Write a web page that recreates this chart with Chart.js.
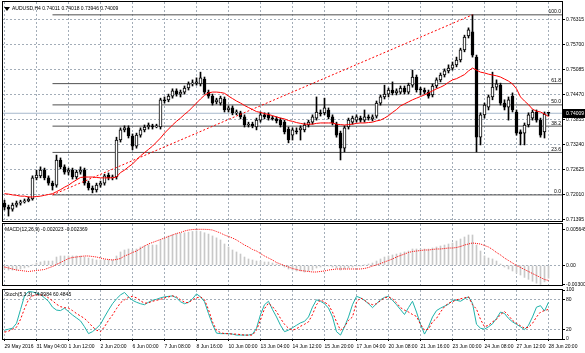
<!DOCTYPE html>
<html>
<head>
<meta charset="utf-8">
<script src="https://cdn.jsdelivr.net/npm/chart.js"></script>
<style>
  html, body { margin: 0; padding: 0; background: #fff; }
  #wrap { position: relative; width: 585px; height: 353px; overflow: hidden; }
  canvas { position: absolute; left: 0; }
</style>
</head>
<body>
<div id="wrap">
  <canvas id="main" width="585" height="222" style="top:0"></canvas>
  <canvas id="macd" width="585" height="65" style="top:222px"></canvas>
  <canvas id="stoch" width="585" height="66" style="top:287px"></canvas>
</div>
<script>
// time axis labels, one every 8 bars (H4)
const timeLabels = ['29 May 2016', '31 May 04:00', '1 Jun 12:00', '2 Jun 20:00', '6 Jun 00:00', '7 Jun 08:00',
  '8 Jun 16:00', '10 Jun 00:00', '13 Jun 04:00', '14 Jun 12:00', '15 Jun 20:00', '17 Jun 04:00',
  '20 Jun 08:00', '21 Jun 16:00', '23 Jun 00:00', '24 Jun 08:00', '27 Jun 12:00', '28 Jun 20:00'];

// AUDUSD H4 candles
const openP = [0.7180,0.7170,0.7165,0.7175,0.7180,0.7183,0.7185,0.7190,0.7242,0.7247,
  0.7261,0.7242,0.7229,0.7224,0.7286,0.7269,0.7256,0.7261,0.7244,0.7256,
  0.7261,0.7229,0.7217,0.7212,0.7224,0.7229,0.7249,0.7242,0.7244,0.7335,
  0.7360,0.7365,0.7345,0.7320,0.7347,0.7360,0.7367,0.7370,0.7367,0.7367,
  0.7434,0.7434,0.7443,0.7456,0.7448,0.7453,0.7463,0.7473,0.7475,0.7473,
  0.7485,0.7453,0.7443,0.7429,0.7426,0.7436,0.7409,0.7414,0.7402,0.7402,
  0.7392,0.7372,0.7374,0.7367,0.7384,0.7397,0.7397,0.7389,0.7387,0.7384,
  0.7379,0.7362,0.7347,0.7357,0.7360,0.7360,0.7372,0.7379,0.7389,0.7402,
  0.7402,0.7409,0.7392,0.7374,0.7352,0.7315,0.7367,0.7379,0.7384,0.7389,
  0.7384,0.7392,0.7387,0.7394,0.7426,0.7441,0.7448,0.7458,0.7451,0.7453,
  0.7463,0.7453,0.7470,0.7490,0.7461,0.7458,0.7453,0.7446,0.7468,0.7483,
  0.7495,0.7505,0.7512,0.7520,0.7532,0.7557,0.7591,0.7601,0.7539,0.7342,
  0.7397,0.7416,0.7441,0.7465,0.7470,0.7426,0.7416,0.7443,0.7404,0.7355,
  0.7352,0.7372,0.7389,0.7404,0.7384,0.7355,0.74011];
const highP = [0.7187,0.7175,0.7180,0.7185,0.7187,0.7190,0.7195,0.7247,0.7261,0.7269,
  0.7266,0.7247,0.7234,0.7298,0.7291,0.7274,0.7266,0.7266,0.7261,0.7269,
  0.7266,0.7234,0.7222,0.7229,0.7234,0.7251,0.7254,0.7249,0.7342,0.7365,
  0.7370,0.7370,0.7350,0.7352,0.7365,0.7372,0.7377,0.7374,0.7374,0.7438,
  0.7441,0.7448,0.7461,0.7461,0.7458,0.7468,0.7478,0.7483,0.7488,0.7502,
  0.7490,0.7458,0.7448,0.7438,0.7443,0.7441,0.7419,0.7419,0.7409,0.7406,
  0.7397,0.7379,0.7379,0.7389,0.7404,0.7402,0.7402,0.7394,0.7392,0.7389,
  0.7384,0.7367,0.7365,0.7365,0.7370,0.7377,0.7384,0.7397,0.7441,0.7409,
  0.7438,0.7414,0.7397,0.7379,0.7357,0.7370,0.7389,0.7394,0.7397,0.7394,
  0.7409,0.7397,0.7397,0.7431,0.7446,0.7470,0.7463,0.7478,0.7461,0.7468,
  0.7468,0.7475,0.7507,0.7495,0.7465,0.7463,0.7458,0.7473,0.7488,0.7500,
  0.7510,0.7520,0.7527,0.7539,0.7561,0.7593,0.7611,0.7643,0.7544,0.7402,
  0.7426,0.7446,0.7502,0.7483,0.7475,0.7434,0.7441,0.7451,0.7409,0.7360,
  0.7377,0.7402,0.7409,0.7409,0.7389,0.7404,0.74018];
const lowP = [0.7163,0.7148,0.7160,0.7170,0.7175,0.7180,0.7183,0.7187,0.7237,0.7242,
  0.7237,0.7224,0.7212,0.7219,0.7264,0.7251,0.7249,0.7239,0.7239,0.7251,
  0.7224,0.7212,0.7205,0.7207,0.7219,0.7224,0.7237,0.7237,0.7239,0.7330,
  0.7355,0.7340,0.7311,0.7315,0.7342,0.7355,0.7362,0.7362,0.7365,0.7362,
  0.7426,0.7429,0.7438,0.7443,0.7441,0.7448,0.7458,0.7468,0.7470,0.7468,
  0.7448,0.7438,0.7421,0.7424,0.7421,0.7404,0.7404,0.7397,0.7397,0.7387,
  0.7367,0.7367,0.7365,0.7360,0.7379,0.7387,0.7384,0.7384,0.7377,0.7367,
  0.7350,0.7328,0.7335,0.7350,0.7335,0.7355,0.7367,0.7374,0.7384,0.7394,
  0.7397,0.7387,0.7372,0.7342,0.7286,0.7306,0.7362,0.7374,0.7379,0.7379,
  0.7379,0.7384,0.7382,0.7389,0.7421,0.7436,0.7441,0.7446,0.7446,0.7448,
  0.7448,0.7448,0.7465,0.7453,0.7446,0.7448,0.7438,0.7441,0.7463,0.7478,
  0.7490,0.7500,0.7507,0.7515,0.7527,0.7552,0.7586,0.7539,0.7306,0.7323,
  0.7389,0.7409,0.7434,0.7458,0.7421,0.7409,0.7384,0.7404,0.7347,0.7323,
  0.7323,0.7367,0.7384,0.7379,0.7342,0.7340,0.73946];
const closeP = [0.7170,0.7165,0.7175,0.7180,0.7183,0.7185,0.7190,0.7242,0.7249,0.7261,
  0.7242,0.7229,0.7222,0.7286,0.7269,0.7256,0.7261,0.7244,0.7256,0.7261,
  0.7229,0.7217,0.7212,0.7224,0.7229,0.7247,0.7242,0.7244,0.7335,0.7360,
  0.7365,0.7345,0.7320,0.7347,0.7360,0.7367,0.7372,0.7367,0.7370,0.7434,
  0.7431,0.7443,0.7456,0.7448,0.7453,0.7463,0.7473,0.7475,0.7478,0.7488,
  0.7453,0.7443,0.7426,0.7434,0.7438,0.7409,0.7414,0.7402,0.7404,0.7392,
  0.7372,0.7374,0.7370,0.7384,0.7397,0.7392,0.7389,0.7387,0.7382,0.7372,
  0.7355,0.7335,0.7360,0.7355,0.7365,0.7372,0.7379,0.7392,0.7404,0.7399,
  0.7414,0.7392,0.7377,0.7347,0.7315,0.7365,0.7384,0.7389,0.7392,0.7384,
  0.7392,0.7389,0.7392,0.7426,0.7441,0.7448,0.7458,0.7451,0.7456,0.7463,
  0.7453,0.7470,0.7490,0.7458,0.7458,0.7453,0.7443,0.7468,0.7483,0.7495,
  0.7505,0.7512,0.7520,0.7532,0.7557,0.7588,0.7606,0.7544,0.7342,0.7397,
  0.7421,0.7441,0.7465,0.7473,0.7426,0.7416,0.7434,0.7409,0.7352,0.7350,
  0.7372,0.7397,0.7404,0.7384,0.7347,0.7399,0.74009];

// red moving average on the price window
const maLine = [0.7203,0.7202,0.7200,0.7199,0.7197,0.7197,0.7195,0.7195,0.7196,0.7197,
  0.7199,0.7201,0.7203,0.7208,0.7213,0.7219,0.7224,0.7231,0.7237,0.7243,
  0.7244,0.7244,0.7244,0.7243,0.7242,0.7242,0.7242,0.7242,0.7244,0.7255,
  0.7261,0.7269,0.7276,0.7286,0.7296,0.7304,0.7312,0.7320,0.7330,0.7340,
  0.7352,0.7362,0.7372,0.7381,0.7389,0.7398,0.7406,0.7416,0.7426,0.7436,
  0.7445,0.7451,0.7453,0.7453,0.7452,0.7450,0.7443,0.7437,0.7431,0.7426,
  0.7420,0.7415,0.7410,0.7405,0.7403,0.7400,0.7398,0.7395,0.7392,0.7389,
  0.7387,0.7383,0.7381,0.7378,0.7376,0.7374,0.7374,0.7374,0.7376,0.7377,
  0.7377,0.7377,0.7377,0.7374,0.7373,0.7372,0.7373,0.7374,0.7376,0.7377,
  0.7377,0.7378,0.7379,0.7382,0.7384,0.7389,0.7395,0.7403,0.7410,0.7419,
  0.7424,0.7429,0.7434,0.7438,0.7442,0.7446,0.7451,0.7456,0.7461,0.7465,
  0.7470,0.7477,0.7483,0.7486,0.7491,0.7496,0.7505,0.7512,0.7507,0.7502,
  0.7500,0.7497,0.7495,0.7493,0.7490,0.7485,0.7480,0.7473,0.7461,0.7441,
  0.7431,0.7422,0.7411,0.7406,0.7404,0.7399,0.7393];

// MACD(12,26,9): histogram and signal
const macdHist = [-0.00058,-0.00074,-0.00074,-0.00074,-0.00058,-0.00042,-0.00027,0.00005,0.00036,0.00052,
  0.00067,0.00067,0.00067,0.0013,0.00146,0.00146,0.00146,0.00146,0.00146,0.00146,
  0.0013,0.00114,0.00099,0.00083,0.00083,0.00083,0.00083,0.00083,0.00146,0.00209,
  0.0024,0.00256,0.0024,0.00256,0.00287,0.00303,0.00318,0.00318,0.00318,0.00397,
  0.00428,0.00459,0.00478,0.00495,0.0050,0.0051,0.0052,0.0053,0.0054,0.0053,
  0.0051,0.0049,0.0046,0.0043,0.00397,0.00334,0.00287,0.0024,0.00209,0.00177,
  0.0013,0.00099,0.00083,0.00067,0.00067,0.00052,0.00052,0.00036,0.0002,0.00005,
  -0.00027,-0.00058,-0.00074,-0.00089,-0.00089,-0.00105,-0.00089,-0.00074,-0.00042,-0.00027,
  -0.00011,-0.00011,-0.00027,-0.00042,-0.00074,-0.00058,-0.00042,-0.00027,-0.00011,-0.00011,
  0.00005,0.0002,0.00036,0.00067,0.00099,0.0013,0.00146,0.00162,0.00177,0.00193,
  0.00209,0.00224,0.00256,0.00256,0.00256,0.00256,0.00256,0.00271,0.00287,0.00303,
  0.00318,0.00334,0.0035,0.00381,0.00412,0.00444,0.00475,0.00475,0.00318,0.00224,
  0.00146,0.00114,0.00099,0.00067,0.0002,-0.00027,-0.00058,-0.00089,-0.00121,-0.00152,
  -0.0019,-0.0022,-0.0025,-0.0028,-0.003001,-0.0026,-0.002023];
const macdSignal = [-0.00027,-0.00042,-0.00058,-0.00074,-0.00082,-0.00089,-0.00097,-0.00089,-0.00082,-0.00074,
  -0.00066,-0.00042,-0.00019,0.00013,0.00044,0.00075,0.00107,0.00122,0.0013,0.00138,
  0.00146,0.00146,0.00138,0.0013,0.00114,0.00099,0.00091,0.00083,0.00091,0.00107,
  0.00146,0.00169,0.00201,0.00224,0.00263,0.00303,0.00334,0.00358,0.00381,0.00405,
  0.00428,0.00452,0.00475,0.00499,0.00514,0.00538,0.00553,0.00561,0.005645,0.005645,
  0.00564,0.00561,0.00553,0.0053,0.00506,0.00475,0.00452,0.00428,0.00397,0.00358,
  0.00318,0.00287,0.00248,0.00224,0.00185,0.00146,0.00114,0.00083,0.00044,0.0002,
  -0.00003,-0.00027,-0.0005,-0.00066,-0.00082,-0.00089,-0.00097,-0.00105,-0.00105,-0.00097,
  -0.00089,-0.00074,-0.00066,-0.00058,-0.00058,-0.00058,-0.00058,-0.00058,-0.00058,-0.00058,
  -0.0005,-0.00034,-0.00011,0.00005,0.00028,0.00052,0.00075,0.00099,0.0013,0.00154,
  0.00177,0.00201,0.00216,0.00224,0.00232,0.0024,0.0024,0.00248,0.00256,0.00256,
  0.00263,0.00271,0.00271,0.00279,0.00295,0.00318,0.00334,0.0035,0.00342,0.00334,
  0.0031,0.00287,0.00248,0.00201,0.00162,0.00114,0.00075,0.00036,-0.00003,-0.00034,
  -0.00066,-0.00097,-0.00129,-0.0016,-0.00191,-0.00223,-0.002369];

// Stochastic(5,3,3): main and signal
const stochMain = [18,20,22,32,60,88,97,96,94,91,
  84,77,65,59,58,63,56,49,43,37,
  25,11,15,22,30,45,59,72,82,90,
  95,86,79,75,72,70,75,79,81,84,
  86,87,88,84,76,72,75,82,92,86,
  76,52,30,12,11,11,11,10,8,8,
  8,8,10,22,50,70,77,60,45,28,
  15,18,23,28,33,36,45,65,80,77,
  72,63,45,15,8,25,45,70,87,84,
  79,72,64,72,80,85,87,79,70,60,
  50,64,77,55,30,10,25,45,58,63,
  67,71,79,79,77,82,86,73,30,22,
  20,25,31,42,55,52,42,35,30,25,
  19,28,45,65,68,57,74.9984];
const stochSignal = [14,16,20,24,40,62,80,88,90,90,
  89,84,78,71,66,64,63,58,52,47,
  42,34,25,18,15,25,38,49,62,74,
  80,85,87,84,78,73,74,77,79,81,
  84,86,88,86,80,75,74,80,84,86,
  80,60,35,18,13,11,11,10,10,9,
  8,8,8,18,39,62,73,66,56,42,
  30,22,18,21,26,30,35,50,70,80,
  75,70,55,35,18,25,38,45,75,84,
  79,73,70,72,78,84,86,82,74,64,
  59,55,50,46,30,18,20,35,42,55,
  66,73,76,80,82,84,86,70,61,40,
  25,28,35,40,50,56,48,38,32,27,
  22,24,32,45,55,58,60.4845];

// axis ticks
const priceTicks = [0.76315, 0.75700, 0.75085, 0.74470, 0.73855, 0.73240, 0.72625, 0.72010, 0.71395];
const macdTicks = [0.005645, 0, -0.003001];
const macdTickLabels = ['0.005645', '0.00', '-0.003001'];
const stochTicks = [100, 80, 20, 0];

// fibonacci retracement object
const fibLevels = [0, 23.6, 38.2, 50, 61.8, 100];
const fibLow = 0.7200, fibHigh = 0.7643;
const fibFrom = 12, fibTo = 117;

const bid = 0.74009;
const titleMain = 'AUDUSD,H4 0.74011 0.74018 0.73946 0.74009';
const titleMacd = 'MACD(12,26,9) -0.002023 -0.002369';
const titleStoch = 'Stoch(5,3,3) 74.9984 60.4845';

const FAM = "'Liberation Sans', Arial, sans-serif";
const FS = 5;
const gridCol = '#a3adb8';
const xMin = -0.625, xMax = 139.625;
const labelIdx = timeLabels.map((_, k) => k * 8);
const series = arr => arr.map((v, i) => ({ x: i, y: v }));

function xAxis(withLabels) {
  return {
    type: 'linear', min: xMin, max: xMax, offset: false,
    afterBuildTicks: s => { s.ticks = labelIdx.map(v => ({ value: v })); },
    afterFit: s => { s.height = withLabels ? 14 : 0; s.paddingLeft = 0; s.paddingRight = 0; },
    grid: { color: gridCol, offset: false, drawTicks: withLabels, tickLength: 2, tickColor: '#000' },
    border: { display: false, dash: [2, 2] },
    ticks: { display: withLabels, autoSkip: false, maxRotation: 0, minRotation: 0, align: 'start', padding: 3,
      color: '#000', font: { family: FAM, size: FS }, callback: (v, i) => timeLabels[i] }
  };
}

function yAxis(min, max, ticks, labelFn, gridFn) {
  return {
    position: 'right', min: min, max: max,
    afterBuildTicks: s => { s.ticks = ticks.map(v => ({ value: v })); },
    afterFit: s => { s.width = 22; s.paddingTop = 0; s.paddingBottom = 0; },
    grid: { color: gridFn, drawTicks: true, tickLength: 2, tickColor: '#000' },
    border: { display: false, dash: [2, 2] },
    ticks: { padding: 1, color: '#000', font: { family: FAM, size: FS }, callback: labelFn }
  };
}

function decor(title, tx, ty, extra) {
  return {
    id: 'decor',
    afterDraw(chart) {
      const { ctx, chartArea: a } = chart;
      ctx.save();
      ctx.strokeStyle = '#000';
      ctx.lineWidth = 1;
      ctx.strokeRect(a.left + 0.5, a.top - 0.5, a.right - a.left - 1, a.bottom - a.top + 1);
      ctx.fillStyle = '#000';
      ctx.font = FS + 'px ' + FAM;
      ctx.textBaseline = 'middle';
      ctx.textAlign = 'left';
      ctx.fillText(title, tx, ty);
      if (extra) extra(chart, ctx, a);
      ctx.restore();
    }
  };
}

const base = {
  responsive: false, animation: false, events: [],
  plugins: { legend: { display: false }, tooltip: { enabled: false } }
};

// price window
const idx = closeP.map((_, i) => i);
const fibPrice = p => fibLow + (fibHigh - fibLow) * p / 100;

new Chart(document.getElementById('main'), {
  type: 'bar',
  data: {
    datasets: [
      { type: 'line', data: [{ x: fibFrom, y: fibLow }, { x: fibTo, y: fibHigh }], borderColor: '#ff0000',
        borderWidth: 1, borderDash: [2, 2], pointRadius: 0, order: 1 },
      { type: 'line', data: series(maLine), borderColor: '#ff0000', borderWidth: 1, pointRadius: 0, order: 1 },
      { type: 'bar', data: idx.map(i => ({ x: i, y: [openP[i], closeP[i]] })),
        backgroundColor: idx.map(i => closeP[i] >= openP[i] ? '#ffffff' : '#000000'),
        borderColor: '#000', borderWidth: 1, borderSkipped: false, barThickness: 3, minBarLength: 1,
        grouped: false, order: 2 },
      { type: 'bar', data: idx.map(i => ({ x: i, y: [lowP[i], highP[i]] })), backgroundColor: '#000',
        borderWidth: 0, barThickness: 1, grouped: false, order: 3 },
      ...fibLevels.map(p => ({ type: 'line', data: [{ x: fibFrom, y: fibPrice(p) }, { x: xMax, y: fibPrice(p) }],
        borderColor: '#505050', borderWidth: 1, pointRadius: 0, order: 5 })),
      { type: 'line', data: [{ x: xMin, y: bid }, { x: xMax, y: bid }], borderColor: '#a6b8cc',
        borderWidth: 1, pointRadius: 0, order: 4 }
    ]
  },
  options: Object.assign({}, base, {
    layout: { padding: { left: 2, top: 2, right: 0, bottom: 1 } },
    scales: {
      x: xAxis(false),
      y: yAxis(0.713584, 0.767458, priceTicks, v => v.toFixed(5), () => gridCol)
    }
  }),
  plugins: [decor(titleMain, 12, 9, (chart, ctx, a) => {
    ctx.beginPath();
    ctx.moveTo(4, 7); ctx.lineTo(10, 7); ctx.lineTo(7, 11); ctx.closePath();
    ctx.fill();
    const ys = chart.scales.y;
    ctx.textAlign = 'right';
    ctx.textBaseline = 'bottom';
    fibLevels.forEach(p => ctx.fillText(p.toFixed(1), a.right - 2, ys.getPixelForValue(fibPrice(p)) - 0.5));
    const by = Math.round(ys.getPixelForValue(bid));
    ctx.fillRect(a.right, by - 4, 585 - a.right, 9);
    ctx.fillStyle = '#fff';
    ctx.textAlign = 'left';
    ctx.textBaseline = 'middle';
    ctx.fillText(bid.toFixed(5), a.right + 3, by + 0.5);
  })]
});

// MACD window
new Chart(document.getElementById('macd'), {
  type: 'bar',
  data: {
    datasets: [
      { type: 'line', data: series(macdSignal), borderColor: '#ff0000', borderWidth: 1, borderDash: [1, 1],
        pointRadius: 0, order: 1 },
      { type: 'bar', data: series(macdHist), backgroundColor: '#c8c8c8', borderWidth: 0, barThickness: 1, order: 2 }
    ]
  },
  options: Object.assign({}, base, {
    layout: { padding: { left: 2, top: 2, right: 0, bottom: 2 } },
    scales: {
      x: xAxis(false),
      y: yAxis(-0.003089, 0.006476, macdTicks, (v, i) => macdTickLabels[i],
        c => c.tick && c.tick.value === 0 ? gridCol : 'rgba(0,0,0,0)')
    }
  }),
  plugins: [decor(titleMacd, 5, 8)]
});

// Stochastic window
new Chart(document.getElementById('stoch'), {
  type: 'line',
  data: {
    datasets: [
      { data: series(stochSignal), borderColor: '#ff0000', borderWidth: 1, borderDash: [2, 2], pointRadius: 0 },
      { data: series(stochMain), borderColor: '#20b2aa', borderWidth: 1, pointRadius: 0 }
    ]
  },
  options: Object.assign({}, base, {
    layout: { padding: { left: 2, top: 3, right: 0, bottom: 0 } },
    scales: {
      x: xAxis(true),
      y: yAxis(0, 100, stochTicks, v => String(v),
        c => c.tick && (c.tick.value === 80 || c.tick.value === 20) ? gridCol : 'rgba(0,0,0,0)')
    }
  }),
  plugins: [decor(titleStoch, 5, 8)]
});
</script>
</body>
</html>
